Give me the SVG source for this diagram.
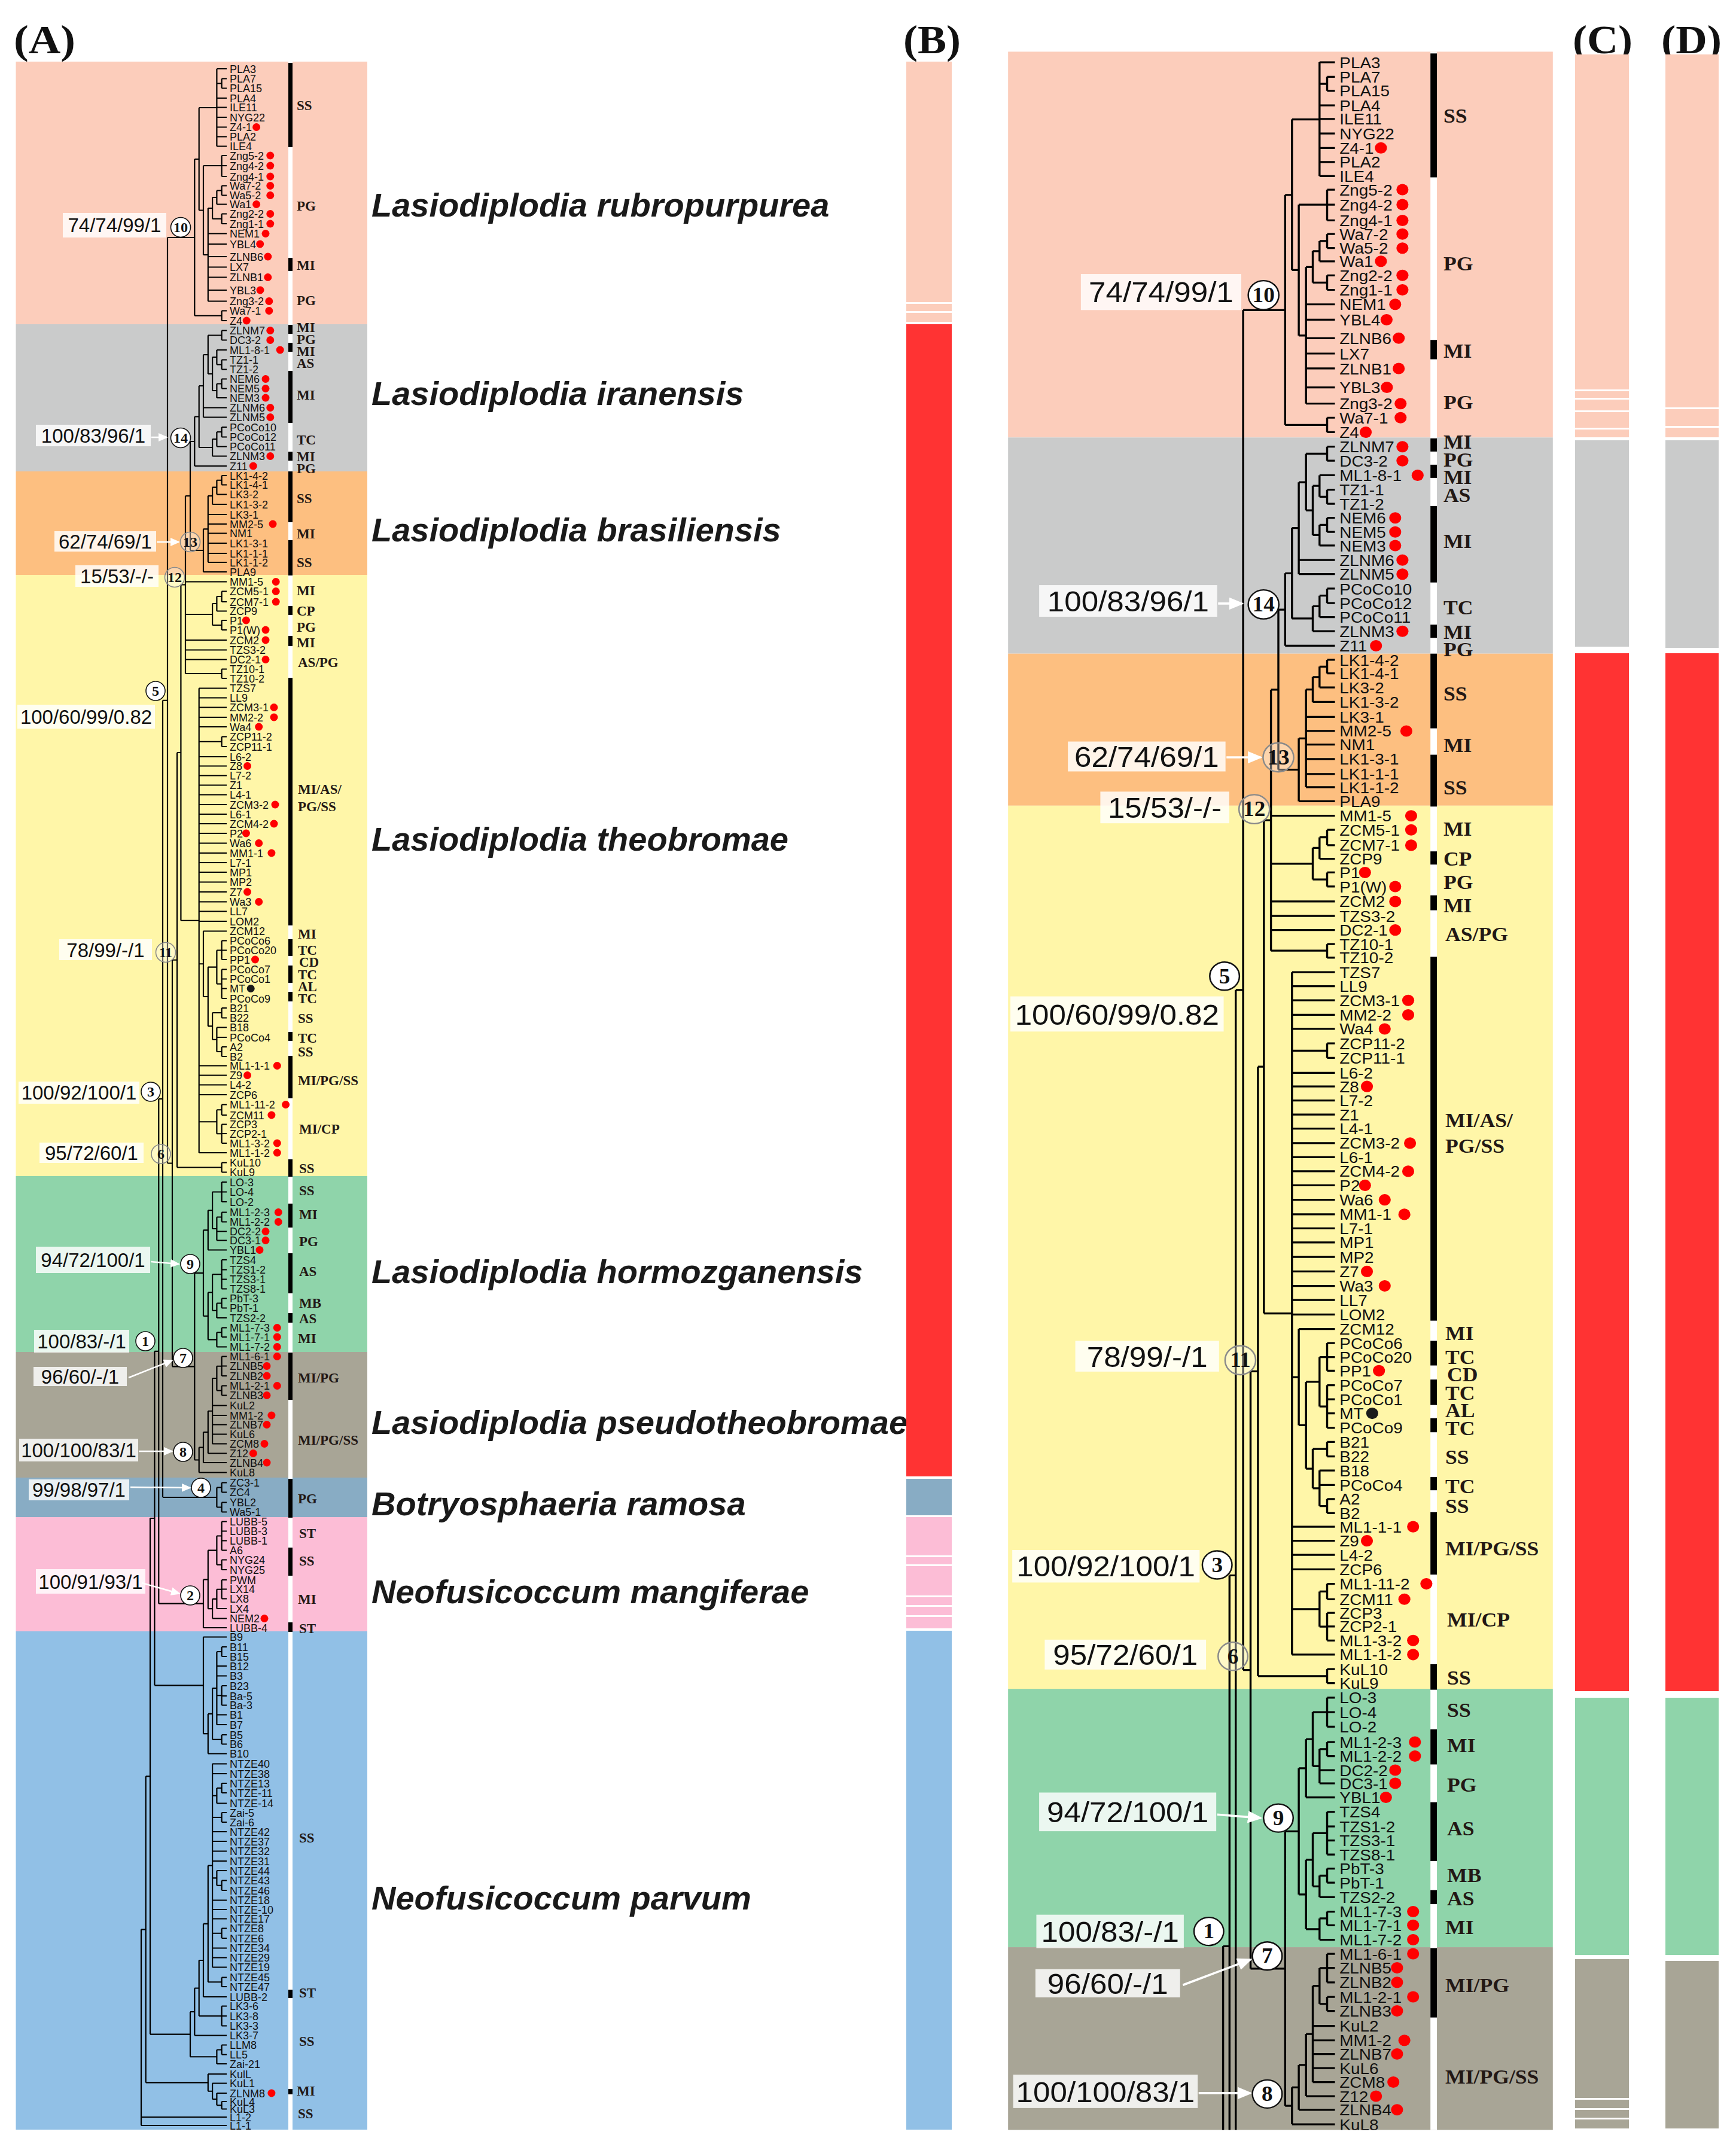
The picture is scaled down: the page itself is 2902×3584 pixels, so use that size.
<svg xmlns="http://www.w3.org/2000/svg" width="2902" height="3584" viewBox="0 0 2902 3584">
<defs>
<style>
.t{font-family:"Liberation Sans",Arial,sans-serif;font-size:18px;fill:#111}
.c{font-family:"Liberation Serif","Times New Roman",serif;font-weight:bold;font-size:23px;fill:#231815}
.sp{font-family:"Liberation Sans",Arial,sans-serif;font-weight:bold;font-style:italic;font-size:56px;fill:#1a1a1a}
.bl{font-family:"Liberation Sans",Arial,sans-serif;font-size:33px;fill:#111;text-anchor:middle}
.bx{fill:#fff;fill-opacity:0.82}
.nd{font-family:"Liberation Serif","Times New Roman",serif;font-weight:bold;font-size:24px;fill:#111;text-anchor:middle}
.cw{fill:#fff;stroke:#111;stroke-width:1.6}
.cg{fill:#fff;fill-opacity:0.35;stroke:#8a8a8a;stroke-width:1.6}
.br{fill:none;stroke:#000;stroke-width:2.2}
.ar{stroke:#fff;stroke-width:2.5;fill:none}
.hd{font-family:"Liberation Serif","Times New Roman",serif;font-weight:bold;font-size:68px;fill:#111}
</style>
<marker id="wa" markerWidth="16" markerHeight="14" refX="14" refY="7" orient="auto" markerUnits="userSpaceOnUse"><path d="M0,0 L16,7 L0,14 Z" fill="#fff"/></marker>
<clipPath id="rclip" clipPathUnits="userSpaceOnUse"><rect x="0" y="100" width="617" height="2368"/></clipPath>
<g id="panelA">
<g id="backgrounds">
<rect x="26.5" y="103" width="587.5" height="439" fill="#fccdbb"/>
<rect x="26.5" y="542" width="587.5" height="246" fill="#cacbcb"/>
<rect x="26.5" y="788" width="587.5" height="173" fill="#fdbf80"/>
<rect x="26.5" y="961" width="587.5" height="1005" fill="#fff6a8"/>
<rect x="26.5" y="1966" width="587.5" height="294" fill="#8fd4aa"/>
<rect x="26.5" y="2260" width="587.5" height="210" fill="#a8a596"/>
<rect x="26.5" y="2470" width="587.5" height="66" fill="#88acc4"/>
<rect x="26.5" y="2536" width="587.5" height="191" fill="#fcbdd6"/>
<rect x="26.5" y="2727" width="587.5" height="833" fill="#91c0e6"/>
<rect x="482" y="103" width="7" height="3457" fill="#fff"/>
</g>
<g id="host-bars" fill="#000">
<rect x="482" y="105" width="7" height="141"/><rect x="482" y="431" width="7" height="22"/><rect x="482" y="543" width="7" height="15"/>
<rect x="482" y="573" width="7" height="15"/><rect x="482" y="620" width="7" height="87"/><rect x="482" y="755" width="7" height="15"/>
<rect x="482" y="788" width="7" height="85"/><rect x="482" y="903" width="7" height="59"/><rect x="482" y="1013" width="7" height="15"/>
<rect x="482" y="1063" width="7" height="17"/><rect x="482" y="1133" width="7" height="414"/><rect x="482" y="1570" width="7" height="28"/>
<rect x="482" y="1614" width="7" height="29"/><rect x="482" y="1658" width="7" height="16"/><rect x="482" y="1725" width="7" height="15"/>
<rect x="482" y="1765" width="7" height="71"/><rect x="482" y="1938" width="7" height="29"/><rect x="482" y="2012" width="7" height="40"/>
<rect x="482" y="2095" width="7" height="67"/><rect x="482" y="2195" width="7" height="16"/><rect x="482" y="2261" width="7" height="79"/>
<rect x="482" y="2472" width="7" height="65"/><rect x="482" y="2587" width="7" height="47"/><rect x="482" y="2712" width="7" height="16"/>
<rect x="482" y="3326" width="7" height="14"/><rect x="482" y="3492" width="7" height="9"/>
</g>
<g id="host-codes" class="c">
<text x="496" y="184">SS</text><text x="496" y="352">PG</text><text x="496" y="451">MI</text><text x="496" y="510">PG</text>
<text x="496" y="555">MI</text><text x="496" y="575">PG</text><text x="496" y="595">MI</text><text x="496" y="615">AS</text>
<text x="496" y="668">MI</text><text x="496" y="743">TC</text><text x="496" y="771">MI</text><text x="496" y="791">PG</text>
<text x="496" y="841">SS</text><text x="496" y="900">MI</text><text x="496" y="948">SS</text><text x="496" y="995">MI</text>
<text x="496" y="1029">CP</text><text x="496" y="1056">PG</text><text x="496" y="1082">MI</text><text x="498" y="1115">AS/PG</text>
<text x="498" y="1327">MI/AS/</text><text x="498" y="1356">PG/SS</text>
<text x="498" y="1569">MI</text><text x="498" y="1596">TC</text><text x="500" y="1616">CD</text><text x="498" y="1637">TC</text>
<text x="498" y="1657">AL</text><text x="498" y="1677">TC</text><text x="498" y="1710">SS</text><text x="498" y="1743">TC</text>
<text x="498" y="1766">SS</text><text x="498" y="1814">MI/PG/SS</text><text x="500" y="1895">MI/CP</text><text x="500" y="1961">SS</text>
<text x="500" y="1998">SS</text><text x="500" y="2038">MI</text><text x="500" y="2083">PG</text><text x="500" y="2133">AS</text>
<text x="500" y="2186">MB</text><text x="500" y="2212">AS</text><text x="498" y="2245">MI</text><text x="498" y="2311">MI/PG</text>
<text x="498" y="2415">MI/PG/SS</text><text x="498" y="2513">PG</text><text x="500" y="2571">ST</text><text x="500" y="2617">SS</text>
<text x="498" y="2681">MI</text><text x="500" y="2730">ST</text><text x="500" y="3080">SS</text><text x="500" y="3339">ST</text>
<text x="500" y="3420">SS</text><text x="496" y="3503">MI</text><text x="498" y="3541">SS</text>
</g>
<g id="connectors">
<path class="br" d="M362.4 115H379M370.6 131.5H379M370.6 147.5H379M362.4 164H379M362.4 179.5H379M362.4 196H379M362.4 212.5H379M362.4 228.5H379M362.4 244.5H379M370.6 260H379M370.6 277H379M370.6 295H379M370.6 310.5H379M370.6 326.5H379M362.4 341.5H379M370.6 357.5H379M370.6 374H379M347.8 390.5H379M347.8 408H379M347.8 429H379M347.8 446.5H379M347.8 463.5H379M347.8 485H379M347.8 503.5H379M370.6 519.5H379M370.6 536H379
M370.6 131.5V147.5M362.4 139.5H370.6M362.4 115V244.5M332.7 180H362.4M370.6 260V295M340 277H370.6M370.6 310.5V326.5M362.4 318.5H370.6M362.4 318.5V341.5M355.1 330H362.4M370.6 357.5V374M355.1 365.75H370.6M355.1 330V365.75M347.8 348H355.1M347.8 348V503.5M340 426H347.8M340 277V426M332.7 351.5H340M332.7 180V351.5M325.3 266H332.7M370.6 519.5V536M325.3 527.75H370.6M325.3 266V527.75M280 397H325.3
M370.6 552.5H379M370.6 568.5H379M362.4 585H379M370.6 601.5H379M370.6 617.5H379M370.6 633.5H379M370.6 649.5H379M362.4 665H379M340 681.5H379M340 697.5H379M370.6 714H379M370.6 730.5H379M362.4 746.5H379M355.1 762.5H379M325.3 779H379
M370.6 552.5V568.5M347.8 560.5H370.6M370.6 601.5V617.5M362.4 609.5H370.6M362.4 585V609.5M355.1 597H362.4M370.6 633.5V649.5M362.4 641.5H370.6M362.4 641.5V665M355.1 653H362.4M355.1 597V653M347.8 625H355.1M347.8 560.5V625M340 593H347.8M340 593V697.5M332.7 645H340M370.6 714V730.5M362.4 722H370.6M362.4 722V746.5M355.1 734H362.4M355.1 734V762.5M332.7 748H355.1M332.7 645V748M325.3 696.5H332.7M325.3 696.5V779M318 738H325.3
M370.6 795H379M370.6 810.5H379M362.4 826.5H379M355.1 843H379M347.8 860H379M347.8 876H379M347.8 891.5H379M347.8 908H379M347.8 925H379M347.8 940H379M340 956H379
M370.6 795V810.5M362.4 802.75H370.6M362.4 802.75V826.5M355.1 814.6H362.4M355.1 814.6V843M347.8 828.8H355.1M347.8 828.8V940M340 884.4H347.8M340 884.4V956M318 920H340M318 738V920M310 829H318
M310 972.5H379M370.6 988.5H379M370.6 1006H379M362.4 1021.5H379M370.6 1037H379M370.6 1053H379M310 1070H379M310 1086.5H379M310 1102.5H379M370.6 1118.5H379M370.6 1134H379
M370.6 988.5V1006M362.4 997H370.6M362.4 997V1021.5M355.1 1009H362.4M370.6 1037V1053M355.1 1045H370.6M355.1 1009V1045M310 1027H355.1M370.6 1118.5V1134M310 1126H370.6M310 829V1126M302.4 977.5H310
M332.7 1150.5H379M332.7 1166.5H379M332.7 1182.5H379M332.7 1199H379M332.7 1215H379M370.6 1231.5H379M370.6 1248H379M332.7 1265H379M332.7 1280.5H379M332.7 1296.5H379M332.7 1312.5H379M332.7 1328.5H379M332.7 1345H379M332.7 1361H379M332.7 1377H379M332.7 1393H379M332.7 1409.5H379M332.7 1426H379M332.7 1442H379M332.7 1458H379M332.7 1474.5H379M332.7 1491H379M332.7 1507.5H379M332.7 1523.5H379M332.7 1540H379
M340 1556.5H379M370.6 1572.5H379M370.6 1588.5H379M370.6 1604H379M370.6 1620.5H379M370.6 1636.5H379M370.6 1652.5H379M370.6 1669H379M370.6 1685H379M370.6 1701.5H379M362.4 1717.5H379M362.4 1734H379M370.6 1750H379M370.6 1766H379
M332.7 1781.5H379M332.7 1797.5H379M332.7 1813.5H379M332.7 1830H379M370.6 1846.5H379M370.6 1864H379M370.6 1879.5H379M370.6 1895H379M370.6 1911H379M332.7 1927H379M370.6 1943.5H379M370.6 1959.5H379
M370.6 1231.5V1248M332.7 1239.75H370.6M370.6 1572.5V1604M362.4 1588.5H370.6M370.6 1620.5V1669M362.4 1644.75H370.6M362.4 1588.5V1644.75M347.8 1616.6H362.4M370.6 1685V1701.5M355.1 1693H370.6M370.6 1750V1766M362.4 1758H370.6M362.4 1717.5V1758M355.1 1737.75H362.4M355.1 1693V1737.75M347.8 1715.4H355.1M347.8 1616.6V1715.4M340 1666H347.8M340 1556.5V1666M332.7 1611.25H340
M370.6 1846.5V1864M362.4 1855.25H370.6M370.6 1879.5V1911M362.4 1895.25H370.6M362.4 1855.25V1895.25M332.7 1875.25H362.4M332.7 1150.5V1927M302.4 1538.75H332.7M302.4 977.5V1538.75M296 1258H302.4M370.6 1943.5V1959.5M296 1951.5H370.6M296 1258V1951.5M288 1604.75H296
M370.6 1976H379M370.6 1992.5H379M370.6 2009H379M370.6 2026.5H379M370.6 2042.5H379M362.4 2058.5H379M362.4 2073.5H379M347.8 2089.5H379M370.6 2106H379M370.6 2122.5H379M370.6 2138.5H379M370.6 2154.5H379M370.6 2170.5H379M370.6 2186.5H379M362.4 2203H379M370.6 2219.5H379M370.6 2235H379M362.4 2251.5H379
M370.6 1976V2009M355.1 1992.5H370.6M370.6 2026.5V2042.5M362.4 2034.5H370.6M362.4 2034.5V2073.5M355.1 2054H362.4M355.1 1992.5V2054M347.8 2023.25H355.1M347.8 2023.25V2089.5M340 2056.4H347.8M370.6 2106V2154.5M355.1 2130.25H370.6M370.6 2170.5V2186.5M362.4 2178.5H370.6M362.4 2178.5V2203M355.1 2190.75H362.4M355.1 2130.25V2190.75M347.8 2160.5H355.1M370.6 2219.5V2235M362.4 2227.25H370.6M362.4 2227.25V2251.5M347.8 2239.4H362.4M347.8 2160.5V2239.4M340 2200H347.8M340 2056.4V2200M325.3 2128.2H340
M370.6 2267.5H379M370.6 2283.5H379M370.6 2300H379M370.6 2316.5H379M370.6 2332.5H379M355.1 2349.5H379M355.1 2366H379M355.1 2381.5H379M355.1 2397.5H379M355.1 2413.5H379M347.8 2429.5H379M340 2445H379M332.7 2461.5H379
M370.6 2267.5V2300M362.4 2283.75H370.6M370.6 2316.5V2332.5M362.4 2324.5H370.6M362.4 2283.75V2324.5M355.1 2304H362.4M355.1 2304V2413.5M347.8 2358.75H355.1M347.8 2358.75V2429.5M340 2394H347.8M340 2394V2445M332.7 2419.5H340M332.7 2419.5V2461.5M325.3 2440.5H332.7M325.3 2128.2V2440.5M288 2284.35H325.3M288 1604.75V2284.35M280 1944.5H288M280 397V1944.5M272 1170.75H280
M370.6 2478.5H379M370.6 2494.5H379M370.6 2511.5H379M370.6 2527.5H379M370.6 2478.5V2494.5M362.4 2486.5H370.6M370.6 2511.5V2527.5M362.4 2519.5H370.6M362.4 2486.5V2519.5M272 2503H362.4M272 1170.75V2503M265.3 1836.9H272
M370.6 2543.5H379M370.6 2559.5H379M370.6 2575.5H379M370.6 2591.5H379M370.6 2607.5H379M370.6 2624H379M370.6 2641H379M370.6 2656.5H379M370.6 2672.5H379M362.4 2689H379M355.1 2705.5H379M340 2721H379
M370.6 2543.5V2591.5M362.4 2567.5H370.6M370.6 2607.5V2624M362.4 2615.75H370.6M362.4 2567.5V2615.75M347.8 2591.6H362.4M370.6 2641V2672.5M362.4 2656.75H370.6M362.4 2656.75V2689M355.1 2672.9H362.4M355.1 2672.9V2705.5M347.8 2689.2H355.1M347.8 2591.6V2689.2M340 2640.4H347.8M340 2640.4V2721M265.3 2680.7H340M265.3 1836.9V2680.7M258.4 2258.8H265.3
M340 2736.5H379M370.6 2753H379M370.6 2769H379M362.4 2785H379M362.4 2801.5H379M370.6 2818H379M370.6 2835H379M370.6 2850.5H379M362.4 2866.5H379M362.4 2883H379M370.6 2900H379M370.6 2915.5H379M347.8 2931.5H379
M370.6 2753V2769M362.4 2761H370.6M370.6 2818V2850.5M362.4 2834.25H370.6M362.4 2761V2883M355.1 2822H362.4M370.6 2900V2915.5M355.1 2907.75H370.6M355.1 2822V2907.75M347.8 2864.9H355.1M347.8 2864.9V2931.5M340 2898.2H347.8M340 2736.5V2898.2M258.4 2817.35H340M258.4 2258.8V2817.35M251 2538H258.4
M355.1 2948.5H379M355.1 2965H379M370.6 2981H379M370.6 2997H379M362.4 3014.5H379M370.6 3030H379M370.6 3046H379M355.1 3062H379M355.1 3078H379M355.1 3094.5H379M355.1 3111H379M362.4 3127H379M370.6 3143.5H379M370.6 3160H379M355.1 3176.5H379M355.1 3192H379M355.1 3207.5H379M370.6 3223.5H379M370.6 3240H379M355.1 3256.5H379M355.1 3272.5H379M355.1 3288.5H379M370.6 3305.5H379M370.6 3321H379M340 3338H379M370.6 3353.5H379M370.6 3370H379M370.6 3386.5H379M325.3 3402.5H379M370.6 3418.5H379M370.6 3434.5H379M362.4 3450H379M347.8 3467H379M355.1 3482.5H379M362.4 3499H379M370.6 3513H379M370.6 3525.5H379M236 3539H379M236 3553H379
M370.6 2981V2997M362.4 2989H370.6M362.4 2989V3014.5M355.1 3001.75H362.4M370.6 3030V3046M355.1 3038H370.6M370.6 3143.5V3160M362.4 3151.75H370.6M362.4 3127V3151.75M355.1 3139.4H362.4M370.6 3223.5V3240M355.1 3231.75H370.6M355.1 2948.5V3288.5M347.8 3118.5H355.1M370.6 3305.5V3321M347.8 3313.25H370.6M347.8 3118.5V3313.25M340 3215.9H347.8M340 3215.9V3338M332.7 3277H340M370.6 3353.5V3386.5M332.7 3370H370.6M332.7 3277V3370M325.3 3323.5H332.7M325.3 3323.5V3402.5M318 3363H325.3M370.6 3418.5V3434.5M362.4 3426.5H370.6M362.4 3426.5V3450M318 3438.25H362.4M318 3363V3438.25M251 3400.6H318M251 2538V3400.6M243.7 2969.3H251
M370.6 3513V3525.5M362.4 3519.25H370.6M362.4 3499V3519.25M355.1 3509H362.4M355.1 3482.5V3509M347.8 3495.75H355.1M347.8 3467V3495.75M243.7 3481.4H347.8M243.7 2969.3V3481.4M236 3225.35H243.7M236 3225.35V3553"/>
</g>
<g id="leaves" class="t">
<g id="clade-rubropurpurea">
<text x="384" y="121.5">PLA3</text><text x="384" y="138">PLA7</text><text x="384" y="154">PLA15</text><text x="384" y="170.5">PLA4</text><text x="384" y="186">ILE11</text><text x="384" y="202.5">NYG22</text><text x="384" y="219">Z4-1</text><text x="384" y="235">PLA2</text><text x="384" y="251">ILE4</text><text x="384" y="266.5">Zng5-2</text><text x="384" y="283.5">Zng4-2</text><text x="384" y="301.5">Zng4-1</text><text x="384" y="317">Wa7-2</text><text x="384" y="333">Wa5-2</text><text x="384" y="348">Wa1</text><text x="384" y="364">Zng2-2</text><text x="384" y="380.5">Zng1-1</text><text x="384" y="397">NEM1</text><text x="384" y="414.5">YBL4</text><text x="384" y="435.5">ZLNB6</text><text x="384" y="453">LX7</text><text x="384" y="470">ZLNB1</text><text x="384" y="491.5">YBL3</text><text x="384" y="510">Zng3-2</text><text x="384" y="526">Wa7-1</text><text x="384" y="542.5">Z4</text>
</g>
<g id="clade-iranensis">
<text x="384" y="559">ZLNM7</text><text x="384" y="575">DC3-2</text><text x="384" y="591.5">ML1-8-1</text><text x="384" y="608">TZ1-1</text><text x="384" y="624">TZ1-2</text><text x="384" y="640">NEM6</text><text x="384" y="656">NEM5</text><text x="384" y="671.5">NEM3</text><text x="384" y="688">ZLNM6</text><text x="384" y="704">ZLNM5</text><text x="384" y="720.5">PCoCo10</text><text x="384" y="737">PCoCo12</text><text x="384" y="753">PCoCo11</text><text x="384" y="769">ZLNM3</text><text x="384" y="785.5">Z11</text>
</g>
<g id="clade-brasiliensis">
<text x="384" y="801.5">LK1-4-2</text><text x="384" y="817">LK1-4-1</text><text x="384" y="833">LK3-2</text><text x="384" y="849.5">LK1-3-2</text><text x="384" y="866.5">LK3-1</text><text x="384" y="882.5">MM2-5</text><text x="384" y="898">NM1</text><text x="384" y="914.5">LK1-3-1</text><text x="384" y="931.5">LK1-1-1</text><text x="384" y="946.5">LK1-1-2</text><text x="384" y="962.5">PLA9</text>
</g>
<g id="clade-theobromae">
<text x="384" y="979">MM1-5</text><text x="384" y="995">ZCM5-1</text><text x="384" y="1012.5">ZCM7-1</text><text x="384" y="1028">ZCP9</text><text x="384" y="1043.5">P1</text><text x="384" y="1059.5">P1(W)</text><text x="384" y="1076.5">ZCM2</text><text x="384" y="1093">TZS3-2</text><text x="384" y="1109">DC2-1</text><text x="384" y="1125">TZ10-1</text><text x="384" y="1140.5">TZ10-2</text><text x="384" y="1157">TZS7</text><text x="384" y="1173">LL9</text><text x="384" y="1189">ZCM3-1</text><text x="384" y="1205.5">MM2-2</text><text x="384" y="1221.5">Wa4</text><text x="384" y="1238">ZCP11-2</text><text x="384" y="1254.5">ZCP11-1</text><text x="384" y="1271.5">L6-2</text><text x="384" y="1287">Z8</text><text x="384" y="1303">L7-2</text><text x="384" y="1319">Z1</text><text x="384" y="1335">L4-1</text><text x="384" y="1351.5">ZCM3-2</text><text x="384" y="1367.5">L6-1</text><text x="384" y="1383.5">ZCM4-2</text><text x="384" y="1399.5">P2</text><text x="384" y="1416">Wa6</text><text x="384" y="1432.5">MM1-1</text><text x="384" y="1448.5">L7-1</text><text x="384" y="1464.5">MP1</text><text x="384" y="1481">MP2</text><text x="384" y="1497.5">Z7</text><text x="384" y="1514">Wa3</text><text x="384" y="1530">LL7</text><text x="384" y="1546.5">LOM2</text><text x="384" y="1563">ZCM12</text><text x="384" y="1579">PCoCo6</text><text x="384" y="1595">PCoCo20</text><text x="384" y="1610.5">PP1</text><text x="384" y="1627">PCoCo7</text><text x="384" y="1643">PCoCo1</text><text x="384" y="1659">MT</text><text x="384" y="1675.5">PCoCo9</text><text x="384" y="1691.5">B21</text><text x="384" y="1708">B22</text><text x="384" y="1724">B18</text><text x="384" y="1740.5">PCoCo4</text><text x="384" y="1756.5">A2</text><text x="384" y="1772.5">B2</text><text x="384" y="1788">ML1-1-1</text><text x="384" y="1804">Z9</text><text x="384" y="1820">L4-2</text><text x="384" y="1836.5">ZCP6</text><text x="384" y="1853">ML1-11-2</text><text x="384" y="1870.5">ZCM11</text><text x="384" y="1886">ZCP3</text><text x="384" y="1901.5">ZCP2-1</text><text x="384" y="1917.5">ML1-3-2</text><text x="384" y="1933.5">ML1-1-2</text><text x="384" y="1950">KuL10</text><text x="384" y="1966">KuL9</text>
</g>
<g id="clade-hormozganensis">
<text x="384" y="1982.5">LO-3</text><text x="384" y="1999">LO-4</text><text x="384" y="2015.5">LO-2</text><text x="384" y="2033">ML1-2-3</text><text x="384" y="2049">ML1-2-2</text><text x="384" y="2065">DC2-2</text><text x="384" y="2080">DC3-1</text><text x="384" y="2096">YBL1</text><text x="384" y="2112.5">TZS4</text><text x="384" y="2129">TZS1-2</text><text x="384" y="2145">TZS3-1</text><text x="384" y="2161">TZS8-1</text><text x="384" y="2177">PbT-3</text><text x="384" y="2193">PbT-1</text><text x="384" y="2209.5">TZS2-2</text><text x="384" y="2226">ML1-7-3</text><text x="384" y="2241.5">ML1-7-1</text><text x="384" y="2258">ML1-7-2</text>
</g>
<g id="clade-pseudotheobromae">
<text x="384" y="2274">ML1-6-1</text><text x="384" y="2290">ZLNB5</text><text x="384" y="2306.5">ZLNB2</text><text x="384" y="2323">ML1-2-1</text><text x="384" y="2339">ZLNB3</text><text x="384" y="2356">KuL2</text><text x="384" y="2372.5">MM1-2</text><text x="384" y="2388">ZLNB7</text><text x="384" y="2404">KuL6</text><text x="384" y="2420">ZCM8</text><text x="384" y="2436">Z12</text><text x="384" y="2451.5">ZLNB4</text><text x="384" y="2468">KuL8</text>
</g>
<g id="clade-ramosa">
<text x="384" y="2485">ZC3-1</text><text x="384" y="2501">ZC4</text><text x="384" y="2518">YBL2</text><text x="384" y="2534">Wa5-1</text>
</g>
<g id="clade-mangiferae">
<text x="384" y="2550">LUBB-5</text><text x="384" y="2566">LUBB-3</text><text x="384" y="2582">LUBB-1</text><text x="384" y="2598">A6</text><text x="384" y="2614">NYG24</text><text x="384" y="2630.5">NYG25</text><text x="384" y="2647.5">PWM</text><text x="384" y="2663">LX14</text><text x="384" y="2679">LX8</text><text x="384" y="2695.5">LX4</text><text x="384" y="2712">NEM2</text><text x="384" y="2727.5">LUBB-4</text>
</g>
<g id="clade-parvum">
<text x="384" y="2743">B9</text><text x="384" y="2759.5">B11</text><text x="384" y="2775.5">B15</text><text x="384" y="2791.5">B12</text><text x="384" y="2808">B3</text><text x="384" y="2824.5">B23</text><text x="384" y="2841.5">Ba-5</text><text x="384" y="2857">Ba-3</text><text x="384" y="2873">B1</text><text x="384" y="2889.5">B7</text><text x="384" y="2906.5">B5</text><text x="384" y="2922">B6</text><text x="384" y="2938">B10</text><text x="384" y="2955">NTZE40</text><text x="384" y="2971.5">NTZE38</text><text x="384" y="2987.5">NTZE13</text><text x="384" y="3003.5">NTZE-11</text><text x="384" y="3021">NTZE-14</text><text x="384" y="3036.5">Zai-5</text><text x="384" y="3052.5">Zai-6</text><text x="384" y="3068.5">NTZE42</text><text x="384" y="3084.5">NTZE37</text><text x="384" y="3101">NTZE32</text><text x="384" y="3117.5">NTZE31</text><text x="384" y="3133.5">NTZE44</text><text x="384" y="3150">NTZE43</text><text x="384" y="3166.5">NTZE46</text><text x="384" y="3183">NTZE18</text><text x="384" y="3198.5">NTZE-10</text><text x="384" y="3214">NTZE17</text><text x="384" y="3230">NTZE8</text><text x="384" y="3246.5">NTZE6</text><text x="384" y="3263">NTZE34</text><text x="384" y="3279">NTZE29</text><text x="384" y="3295">NTZE19</text><text x="384" y="3312">NTZE45</text><text x="384" y="3327.5">NTZE47</text><text x="384" y="3344.5">LUBB-2</text><text x="384" y="3360">LK3-6</text><text x="384" y="3376.5">LK3-8</text><text x="384" y="3393">LK3-3</text><text x="384" y="3409">LK3-7</text><text x="384" y="3425">LLM8</text><text x="384" y="3441">LL5</text><text x="384" y="3456.5">Zai-21</text><text x="384" y="3473.5">KulL</text><text x="384" y="3489">KuL1</text><text x="384" y="3505.5">ZLNM8</text><text x="384" y="3519.5">KuL4</text><text x="384" y="3532">KuL3</text><text x="384" y="3545.5">L1-2</text><text x="384" y="3559.5">L1-1</text>
</g>
</g>
<g id="dots" fill="#f00">
<circle cx="428.6" cy="212.5" r="6.5"/><circle cx="451.8" cy="260" r="6.5"/><circle cx="451.8" cy="277" r="6.5"/><circle cx="451.8" cy="295" r="6.5"/><circle cx="451.8" cy="310.5" r="6.5"/><circle cx="451.8" cy="326.5" r="6.5"/><circle cx="428.6" cy="341.5" r="6.5"/><circle cx="451.8" cy="357.5" r="6.5"/><circle cx="451.8" cy="374" r="6.5"/><circle cx="444" cy="390.5" r="6.5"/><circle cx="434.7" cy="408" r="6.5"/><circle cx="447.8" cy="429" r="6.5"/><circle cx="447.8" cy="463.5" r="6.5"/><circle cx="435" cy="485" r="6.5"/><circle cx="449.8" cy="503.5" r="6.5"/><circle cx="449.8" cy="519.5" r="6.5"/><circle cx="412.2" cy="536" r="6.5"/>
<circle cx="451.8" cy="552.5" r="6.5"/><circle cx="451.8" cy="568.5" r="6.5"/><circle cx="468.2" cy="585" r="6.5"/><circle cx="444" cy="633.5" r="6.5"/><circle cx="444" cy="649.5" r="6.5"/><circle cx="444" cy="665" r="6.5"/><circle cx="451.8" cy="681.5" r="6.5"/><circle cx="451.8" cy="697.5" r="6.5"/><circle cx="451.8" cy="762.5" r="6.5"/><circle cx="423.3" cy="779" r="6.5"/><circle cx="456" cy="876" r="6.5"/>
<circle cx="461.2" cy="972.5" r="6.5"/><circle cx="461.2" cy="988.5" r="6.5"/><circle cx="461.2" cy="1006" r="6.5"/><circle cx="411.4" cy="1037" r="6.5"/><circle cx="444" cy="1053" r="6.5"/><circle cx="444" cy="1070" r="6.5"/><circle cx="444" cy="1102.5" r="6.5"/><circle cx="458" cy="1182.5" r="6.5"/><circle cx="458" cy="1199" r="6.5"/><circle cx="432.7" cy="1215" r="6.5"/><circle cx="413.5" cy="1280.5" r="6.5"/><circle cx="460" cy="1345" r="6.5"/><circle cx="458" cy="1377" r="6.5"/><circle cx="411.4" cy="1393" r="6.5"/><circle cx="432.7" cy="1409.5" r="6.5"/><circle cx="453.9" cy="1426" r="6.5"/><circle cx="413.5" cy="1491" r="6.5"/><circle cx="432.7" cy="1507.5" r="6.5"/><circle cx="426.5" cy="1604" r="6.5"/><circle cx="419.2" cy="1652.5" r="6.5" fill="#1a1a1a"/><circle cx="463.3" cy="1781.5" r="6.5"/><circle cx="413.5" cy="1797.5" r="6.5"/><circle cx="477.6" cy="1846.5" r="6.5"/><circle cx="453.9" cy="1864" r="6.5"/><circle cx="463.3" cy="1911" r="6.5"/><circle cx="463.3" cy="1927" r="6.5"/>
<circle cx="465.3" cy="2026.5" r="6.5"/><circle cx="465.3" cy="2042.5" r="6.5"/><circle cx="444" cy="2058.5" r="6.5"/><circle cx="444" cy="2073.5" r="6.5"/><circle cx="434" cy="2089.5" r="6.5"/><circle cx="463.3" cy="2219.5" r="6.5"/><circle cx="463.3" cy="2235" r="6.5"/><circle cx="463.3" cy="2251.5" r="6.5"/>
<circle cx="463.3" cy="2267.5" r="6.5"/><circle cx="446" cy="2283.5" r="6.5"/><circle cx="446" cy="2300" r="6.5"/><circle cx="463.3" cy="2316.5" r="6.5"/><circle cx="446" cy="2332.5" r="6.5"/><circle cx="453.9" cy="2366" r="6.5"/><circle cx="446" cy="2381.5" r="6.5"/><circle cx="442" cy="2413.5" r="6.5"/><circle cx="423.3" cy="2429.5" r="6.5"/><circle cx="446" cy="2445" r="6.5"/>
<circle cx="442" cy="2705.5" r="6.5"/><circle cx="453.9" cy="3499" r="6.5"/>
</g>
<g id="support-labels">
<rect class="bx" x="105" y="356" width="173" height="41"/><text class="bl" x="191.5" y="388">74/74/99/1</text>
<rect class="bx" x="60" y="710" width="192" height="36"/><text class="bl" x="156" y="740">100/83/96/1</text>
<rect class="bx" x="91" y="888" width="170" height="34"/><text class="bl" x="176" y="917">62/74/69/1</text>
<rect class="bx" x="126" y="945" width="139" height="36"/><text class="bl" x="195.5" y="975">15/53/-/-</text>
<rect class="bx" x="29" y="1178" width="230" height="40"/><text class="bl" x="144" y="1210">100/60/99/0.82</text>
<rect class="bx" x="99" y="1570" width="155" height="35"/><text class="bl" x="176.5" y="1599.5">78/99/-/1</text>
<rect class="bx" x="31" y="1808" width="202" height="37"/><text class="bl" x="132" y="1838">100/92/100/1</text>
<rect class="bx" x="66" y="1910" width="174" height="34"/><text class="bl" x="153" y="1939">95/72/60/1</text>
<rect class="bx" x="60" y="2084" width="191" height="44"/><text class="bl" x="155.5" y="2118">94/72/100/1</text>
<rect class="bx" x="57" y="2223" width="159" height="38"/><text class="bl" x="136.5" y="2254">100/83/-/1</text>
<rect class="bx" x="56" y="2285" width="156" height="32"/><text class="bl" x="134" y="2313">96/60/-/1</text>
<rect class="bx" x="32" y="2405" width="199" height="38"/><text class="bl" x="131.5" y="2436">100/100/83/1</text>
<rect class="bx" x="48" y="2473" width="168" height="35"/><text class="bl" x="132" y="2502">99/98/97/1</text>
<rect class="bx" x="60" y="2623" width="183" height="41"/><text class="bl" x="151.5" y="2655.5">100/91/93/1</text>
</g>
<g id="arrows">
<path class="ar" d="M253 731H279" marker-end="url(#wa)"/>
<path class="ar" d="M262 906H299" marker-end="url(#wa)"/>
<path class="ar" d="M252 2109L299 2113" marker-end="url(#wa)"/>
<path class="ar" d="M215 2303L288 2274" marker-end="url(#wa)"/>
<path class="ar" d="M232 2426H288" marker-end="url(#wa)"/>
<path class="ar" d="M218 2486L318 2487" marker-end="url(#wa)"/>
<path class="ar" d="M237 2646L300 2664" marker-end="url(#wa)"/>
</g>
<g id="node-circles">
<g id="n10"><circle class="cw" cx="302" cy="380" r="16.5"/><text class="nd" x="302" y="388" textLength="24" lengthAdjust="spacingAndGlyphs">10</text></g>
<g id="n14"><circle class="cw" cx="302" cy="732" r="16.5"/><text class="nd" x="302" y="740" textLength="24" lengthAdjust="spacingAndGlyphs">14</text></g>
<g id="n13"><circle class="cg" cx="318" cy="906" r="16.5"/><text class="nd" x="318" y="914" textLength="24" lengthAdjust="spacingAndGlyphs">13</text></g>
<g id="n12"><circle class="cg" cx="292" cy="965" r="16.5"/><text class="nd" x="292" y="973" textLength="24" lengthAdjust="spacingAndGlyphs">12</text></g>
<g id="n5"><circle class="cw" cx="260" cy="1155" r="16"/><text class="nd" x="260" y="1163">5</text></g>
<g id="n11"><circle class="cg" cx="277" cy="1592" r="16.5"/><text class="nd" x="277" y="1600" textLength="22" lengthAdjust="spacingAndGlyphs">11</text></g>
<g id="n3"><circle class="cw" cx="252" cy="1825" r="16"/><text class="nd" x="252" y="1833">3</text></g>
<g id="n6"><circle class="cg" cx="269" cy="1929" r="16"/><text class="nd" x="269" y="1937">6</text></g>
<g id="n9"><circle class="cw" cx="318" cy="2113" r="16"/><text class="nd" x="318" y="2121">9</text></g>
<g id="n1"><circle class="cw" cx="243" cy="2242" r="16"/><text class="nd" x="243" y="2250">1</text></g>
<g id="n7"><circle class="cw" cx="306" cy="2270" r="16"/><text class="nd" x="306" y="2278">7</text></g>
<g id="n8"><circle class="cw" cx="306" cy="2427" r="16"/><text class="nd" x="306" y="2435">8</text></g>
<g id="n4"><circle class="cw" cx="336" cy="2487" r="16"/><text class="nd" x="336" y="2495">4</text></g>
<g id="n2"><circle class="cw" cx="318" cy="2667" r="16"/><text class="nd" x="318" y="2675">2</text></g>
</g>
</g>
</defs>
<rect x="0" y="0" width="2902" height="3584" fill="#fff"/>
<g id="headers" class="hd">
<text x="23" y="89" textLength="103" lengthAdjust="spacingAndGlyphs">(A)</text>
<text x="1510" y="89" textLength="96" lengthAdjust="spacingAndGlyphs">(B)</text>
<text x="2629" y="89" textLength="100" lengthAdjust="spacingAndGlyphs">(C)</text>
<text x="2777" y="89" textLength="101" lengthAdjust="spacingAndGlyphs">(D)</text>
</g>
<use href="#panelA"/>
<g id="species-names" class="sp">
<text x="621" y="362">Lasiodiplodia rubropurpurea</text>
<text x="621" y="677">Lasiodiplodia iranensis</text>
<text x="621" y="905">Lasiodiplodia brasiliensis</text>
<text x="621" y="1422">Lasiodiplodia theobromae</text>
<text x="621" y="2145">Lasiodiplodia hormozganensis</text>
<text x="621" y="2397">Lasiodiplodia pseudotheobromae</text>
<text x="621" y="2533">Botryosphaeria ramosa</text>
<text x="621" y="2680">Neofusicoccum mangiferae</text>
<text x="621" y="3192">Neofusicoccum parvum</text>
</g>
<g id="bar-B">
<rect x="1515" y="103" width="76" height="435" fill="#fccdbb"/>
<rect x="1515" y="542" width="76" height="1926" fill="#ff3333"/>
<rect x="1515" y="2472" width="76" height="61" fill="#88acc4"/>
<rect x="1515" y="2536" width="76" height="186" fill="#fcbdd6"/>
<rect x="1515" y="2726" width="76" height="834" fill="#91c0e6"/>
<g fill="#fff"><rect x="1515" y="505" width="76" height="3"/><rect x="1515" y="520" width="76" height="3"/><rect x="1515" y="2600" width="76" height="3"/><rect x="1515" y="2615" width="76" height="3"/><rect x="1515" y="2667" width="76" height="3"/><rect x="1515" y="2683" width="76" height="3"/><rect x="1515" y="2700" width="76" height="3"/></g>
</g>
<g id="panel-A-zoom" transform="matrix(1.55 0 0 1.469 1644.1 -64.9)">
<g clip-path="url(#rclip)"><use href="#panelA"/></g>
</g>
<g id="bar-C">
<rect x="2633" y="91" width="90" height="640" fill="#fccdbb"/>
<rect x="2633" y="736" width="90" height="345" fill="#cacbcb"/>
<rect x="2633" y="1092" width="90" height="1735" fill="#ff3333"/>
<rect x="2633" y="2838" width="90" height="430" fill="#8fd4aa"/>
<rect x="2633" y="3275" width="90" height="283" fill="#a8a596"/>
<g fill="#fff"><rect x="2633" y="651" width="90" height="3"/><rect x="2633" y="665" width="90" height="3"/><rect x="2633" y="686" width="90" height="3"/><rect x="2633" y="715" width="90" height="3"/><rect x="2633" y="3507" width="90" height="3"/><rect x="2633" y="3524" width="90" height="3"/><rect x="2633" y="3540" width="90" height="3"/></g>
</g>
<g id="bar-D">
<rect x="2784" y="91" width="89" height="640" fill="#fccdbb"/>
<rect x="2784" y="736" width="89" height="347" fill="#cacbcb"/>
<rect x="2784" y="1092" width="89" height="1735" fill="#ff3333"/>
<rect x="2784" y="2838" width="89" height="430" fill="#8fd4aa"/>
<rect x="2784" y="3278" width="89" height="280" fill="#a8a596"/>
<g fill="#fff"><rect x="2784" y="681" width="89" height="3"/><rect x="2784" y="712" width="89" height="3"/></g>
</g>
</svg>
